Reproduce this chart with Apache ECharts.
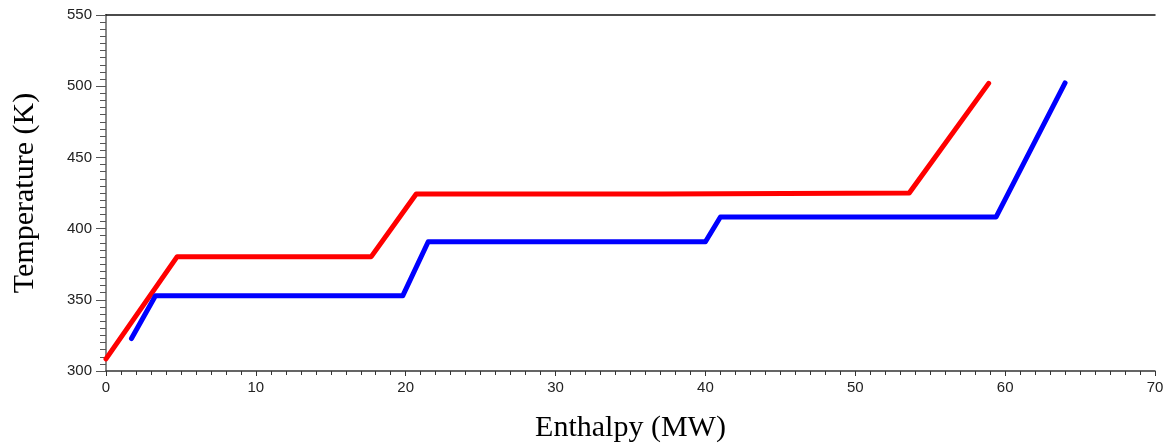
<!DOCTYPE html>
<html>
<head>
<meta charset="utf-8">
<script src="https://cdn.jsdelivr.net/npm/echarts@6/dist/echarts.min.js"></script>
<style>
html,body{margin:0;padding:0;background:#fff;}
#c{width:1171px;height:446px;}
</style>
</head>
<body>
<div id="c"></div>
<script>
// Hot stream (red) composite curve: enthalpy (MW), temperature (K)
const hotEnthalpy = [0.0, 4.75, 17.7, 20.7, 37.1, 37.1, 53.6, 58.9];
const hotTemperature = [308.5, 380.3, 380.3, 424.3, 424.3, 425.0, 425.0, 502.0];
// Cold stream (blue) composite curve
const coldEnthalpy = [1.7, 3.3, 19.8, 21.5, 40.0, 41.0, 59.4, 64.0];
const coldTemperature = [322.8, 352.8, 352.8, 390.8, 390.8, 408.2, 408.2, 502.3];
const xTicks = [0, 10, 20, 30, 40, 50, 60, 70];
const yTicks = [300, 350, 400, 450, 500, 550];

const hot = hotEnthalpy.map((x, i) => [x, hotTemperature[i]]);
const cold = coldEnthalpy.map((x, i) => [x, coldTemperature[i]]);

const chart = echarts.init(document.getElementById('c'), null, {renderer: 'canvas'});
const labelFont = {color: '#222', fontFamily: 'Liberation Sans, Arial, sans-serif', fontSize: 15};
chart.setOption({
  animation: false,
  grid: {left: 106, right: 16, top: 15, bottom: 75, containLabel: false, outerBoundsMode: 'none'},
  xAxis: [{
    type: 'value', min: xTicks[0], max: xTicks[xTicks.length - 1], interval: 10,
    name: 'Enthalpy (MW)', nameLocation: 'middle', nameGap: 42,
    nameTextStyle: {fontFamily: 'Liberation Serif, Times New Roman, serif', fontSize: 30, color: '#000'},
    axisLine: {show: true, onZero: false, lineStyle: {color: '#333', width: 1.5}},
    axisTick: {show: true, length: 5, lineStyle: {color: '#333'}},
    minorTick: {show: true, splitNumber: 10, length: 4, lineStyle: {color: '#333'}},
    axisLabel: Object.assign({margin: 9}, labelFont),
    splitLine: {show: false}
  }, {
    type: 'value', position: 'top', min: 0, max: 70,
    axisLine: {show: true, lineStyle: {color: '#111', width: 1.5}},
    axisTick: {show: false}, axisLabel: {show: false}, splitLine: {show: false}
  }],
  yAxis: [{
    type: 'value', min: yTicks[0], max: yTicks[yTicks.length - 1], interval: 50,
    name: 'Temperature (K)', nameLocation: 'middle', nameGap: 66,
    nameTextStyle: {fontFamily: 'Liberation Serif, Times New Roman, serif', fontSize: 30, color: '#000'},
    axisLine: {show: true, onZero: false, lineStyle: {color: '#777', width: 2}},
    axisTick: {show: true, length: 10, lineStyle: {color: '#555'}},
    minorTick: {show: true, splitNumber: 10, length: 6, lineStyle: {color: '#555'}},
    axisLabel: Object.assign({margin: 14}, labelFont),
    splitLine: {show: false}
  }, {
    type: 'value', position: 'right', min: 300, max: 550,
    axisLine: {show: true, lineStyle: {color: '#888', width: 2}},
    axisTick: {show: false}, axisLabel: {show: false}, splitLine: {show: false}
  }],
  series: [{
    type: 'line', name: 'Hot', data: hot, showSymbol: false, symbol: 'none',
    lineStyle: {color: '#ff0000', width: 5, cap: 'round', join: 'round'}
  }, {
    type: 'line', name: 'Cold', data: cold, showSymbol: false, symbol: 'none',
    lineStyle: {color: '#0000ff', width: 5, cap: 'round', join: 'round'}
  }]
});
</script>
</body>
</html>
